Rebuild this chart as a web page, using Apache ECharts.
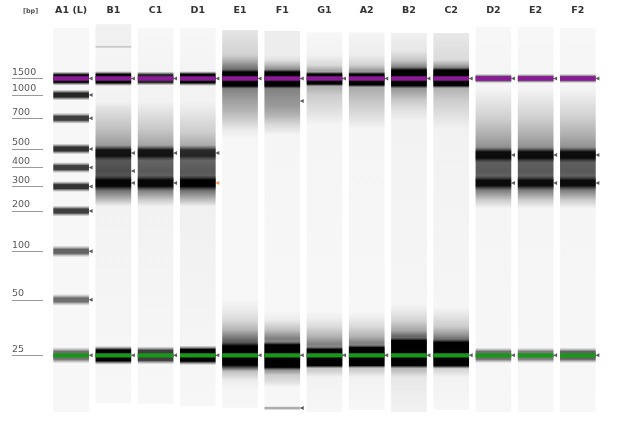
<!DOCTYPE html>
<html>
<head>
<meta charset="utf-8">
<script src="https://cdn.jsdelivr.net/npm/echarts@6/dist/echarts.min.js"></script>
<style>
  html, body { margin: 0; padding: 0; background: #fff; }
  #chart { width: 643px; height: 429px; }
</style>
</head>
<body>
<div id="chart"></div>
<script>
// lanes of the gel
const lanes = ['A1 (L)', 'B1', 'C1', 'D1', 'E1', 'F1', 'G1', 'A2', 'B2', 'C2', 'D2', 'E2', 'F2'];

// ladder: size in bp and relative migration (0 = top of gel, 100 = bottom)
const ladderSizes = [1500, 1000, 700, 500, 400, 300, 200, 100, 50, 25];
const ladderPos = [14.05, 18.3, 24.3, 32.2, 37.0, 41.9, 48.2, 58.6, 71.1, 85.4];

// upper / lower marker positions
const upperMarker = 14.05;
const lowerMarker = 85.4;

// lane extent (migration)
const laneTop = [1.0, 0.0, 1.0, 1.0, 1.55, 1.8, 2.1, 2.1, 2.3, 2.3, 0.8, 0.8, 1.0];
const laneBottom = [100, 97.7, 97.9, 98.5, 99.0, 99.5, 100, 99.5, 100, 99.5, 100, 100, 100];

// background smear per lane: [migration, darkness]
const laneSmear = [
  [],
  [[0.3, 0.06], [5.5, 0.06], [5.9, 0.25], [6.3, 0.04], [20, 0.05], [22, 0.12], [27.3, 0.25], [31, 0.38], [35, 0.65], [38, 0.7], [43, 0.55], [45.4, 0.25], [47, 0.05]],
  [[20, 0.05], [22, 0.1], [27.3, 0.22], [31, 0.35], [35, 0.6], [38, 0.65], [43, 0.5], [45.4, 0.2], [47, 0.05]],
  [[20, 0.05], [23, 0.1], [28, 0.2], [31, 0.32], [35, 0.6], [38, 0.65], [43, 0.55], [45.4, 0.25], [47, 0.06]],
  [[1.55, 0.1], [8, 0.18], [9.3, 0.3], [10.6, 0.45], [12, 0.6], [16.5, 0.5], [19.6, 0.38], [22.2, 0.3], [24.7, 0.2], [27.3, 0.08], [29.9, 0.03], [71, 0.03], [73.7, 0.08], [76.3, 0.15], [78.9, 0.3], [81, 0.55], [82.5, 0.7], [88.7, 0.6], [89.5, 0.25], [91.7, 0.08], [94, 0.04]],
  [[1.8, 0.07], [8, 0.07], [9.3, 0.12], [10.6, 0.28], [12, 0.5], [16.5, 0.5], [19.6, 0.42], [21, 0.4], [23.5, 0.3], [26, 0.15], [28.6, 0.04], [74, 0.03], [76.3, 0.08], [78.9, 0.25], [81, 0.5], [89.4, 0.4], [90.5, 0.2], [92.3, 0.12], [93.5, 0.03]],
  [[2.1, 0.03], [8, 0.05], [10.6, 0.15], [12, 0.35], [16.5, 0.3], [18.3, 0.2], [20.9, 0.15], [23.5, 0.1], [26, 0.04], [74, 0.03], [76, 0.07], [78, 0.14], [80.5, 0.3], [82.5, 0.5], [89.2, 0.2], [91, 0.05]],
  [[2.1, 0.04], [8, 0.07], [10.6, 0.18], [12, 0.4], [16.6, 0.32], [20, 0.22], [24, 0.12], [27, 0.04], [74, 0.03], [76, 0.08], [78, 0.15], [80.5, 0.3], [82.2, 0.5], [89.2, 0.2], [91, 0.05]],
  [[2.3, 0.06], [7, 0.1], [9.3, 0.22], [10.6, 0.4], [11.5, 0.6], [16.8, 0.4], [19.6, 0.22], [22, 0.12], [25, 0.05], [72, 0.04], [73.7, 0.08], [76.3, 0.16], [79, 0.35], [80.5, 0.6], [89.3, 0.25], [91, 0.1], [95, 0.07], [100, 0.05]],
  [[2.3, 0.09], [9.3, 0.14], [10.6, 0.35], [11.7, 0.6], [16.7, 0.3], [19.6, 0.2], [22, 0.15], [24.7, 0.1], [27, 0.05], [73, 0.04], [75, 0.1], [78, 0.2], [80, 0.4], [81.5, 0.6], [89.3, 0.15], [91, 0.05]],
  [[16.5, 0.04], [19.6, 0.1], [24, 0.18], [28, 0.3], [31, 0.4], [35, 0.62], [38, 0.65], [43, 0.5], [45.4, 0.2], [47.5, 0.04]],
  [[16.5, 0.04], [19.6, 0.1], [24, 0.18], [28, 0.3], [31, 0.4], [35, 0.62], [38, 0.65], [43, 0.5], [45.4, 0.2], [47.5, 0.04]],
  [[16.5, 0.04], [19.6, 0.1], [24, 0.18], [28, 0.3], [31, 0.4], [35, 0.62], [38, 0.65], [43, 0.5], [45.4, 0.2], [47.5, 0.04]]
];

// bands: [lane, migration, core half width, halo, darkness]
const bands = [
  [0, 14.05, 1.0, 0.8, 0.95], [0, 18.3, 0.5, 0.9, 0.85], [0, 24.3, 0.5, 0.9, 0.75], [0, 32.2, 0.5, 0.9, 0.8],
  [0, 37.0, 0.5, 0.9, 0.75], [0, 41.9, 0.5, 0.9, 0.8], [0, 48.2, 0.5, 0.9, 0.75], [0, 58.6, 0.5, 1.0, 0.6],
  [0, 71.1, 0.5, 1.0, 0.55], [0, 85.4, 1.0, 1.1, 0.55],
  [1, 14.05, 1.1, 0.8, 1], [1, 33.25, 0.8, 1.2, 0.85], [1, 41.0, 0.8, 1.2, 0.95], [1, 85.4, 1.4, 1.0, 1],
  [2, 14.05, 1.0, 0.8, 0.85], [2, 33.25, 0.8, 1.2, 0.85], [2, 41.0, 0.8, 1.2, 0.95], [2, 85.4, 1.3, 1.0, 0.75],
  [3, 14.05, 1.1, 0.8, 1], [3, 33.25, 0.8, 1.2, 0.7], [3, 41.0, 0.8, 1.2, 1], [3, 85.4, 1.5, 1.0, 1],
  [4, 14.18, 1.8, 0.7, 1], [4, 85.44, 2.5, 0.8, 1],
  [5, 14.18, 1.8, 0.7, 1], [5, 85.57, 2.9, 0.8, 1], [5, 99.0, 0.2, 0.3, 0.3],
  [6, 14.18, 1.3, 0.6, 1], [6, 85.95, 2.1, 0.7, 1],
  [7, 14.3, 1.4, 0.6, 1], [7, 85.7, 2.3, 0.7, 1],
  [8, 13.9, 2.0, 0.7, 1], [8, 84.8, 3.2, 0.8, 1],
  [9, 13.9, 2.0, 0.6, 1], [9, 85.05, 3.0, 0.8, 1],
  [10, 14.05, 0.6, 0.6, 0.6], [10, 33.76, 0.8, 1.2, 0.9], [10, 40.98, 0.7, 1.2, 0.9], [10, 85.4, 1.0, 1.0, 0.55],
  [11, 14.05, 0.6, 0.6, 0.55], [11, 33.76, 0.8, 1.2, 0.9], [11, 40.98, 0.7, 1.2, 0.9], [11, 85.4, 1.0, 1.0, 0.5],
  [12, 14.05, 0.6, 0.6, 0.55], [12, 33.76, 0.8, 1.2, 0.9], [12, 40.98, 0.7, 1.2, 0.9], [12, 85.4, 1.0, 1.0, 0.6]
];

// detected peaks: [lane, migration]
const peaks = [
  [0, 14.05], [0, 18.3], [0, 24.3], [0, 32.2], [0, 37.0], [0, 41.9], [0, 48.2], [0, 58.6], [0, 71.1], [0, 85.4],
  [1, 14.05], [1, 33.25], [1, 37.9], [1, 41.0], [1, 85.4],
  [2, 14.05], [2, 33.25], [2, 41.0], [2, 85.4],
  [3, 14.05], [3, 33.25], [3, 85.4],
  [4, 14.05], [4, 85.4],
  [5, 14.05], [5, 19.85], [5, 85.4], [5, 99.0],
  [6, 14.05], [6, 85.4], [7, 14.05], [7, 85.4], [8, 14.05], [8, 85.4], [9, 14.05], [9, 85.4],
  [10, 14.05], [10, 33.76], [10, 41.0], [10, 85.4],
  [11, 14.05], [11, 33.76], [11, 41.0], [11, 85.4],
  [12, 14.05], [12, 33.76], [12, 41.0], [12, 85.4]
];
// flagged peaks (orange)
const flaggedPeaks = [[3, 41.0]];

const laneWidth = 0.845;
const baseDark = 0.03;

function gray(d) {
  const v = Math.round(255 * (1 - d));
  return 'rgb(' + v + ',' + v + ',' + v + ')';
}

function laneItem(params, api) {
  const i = api.value(0);
  const top = api.value(1), bot = api.value(2);
  const p0 = api.coord([i, top]);
  const p1 = api.coord([i, bot]);
  const w = api.size([1, 0])[0] * laneWidth;
  const stops = [{ offset: 0, color: gray(baseDark) }];
  laneSmear[i].forEach(function (s) {
    let o = (s[0] - top) / (bot - top);
    o = Math.max(0, Math.min(1, o));
    stops.push({ offset: o, color: gray(s[1]) });
  });
  stops.push({ offset: 1, color: gray(baseDark) });
  return {
    type: 'rect',
    shape: { x: p0[0] - w / 2, y: p0[1], width: w, height: p1[1] - p0[1] },
    style: { fill: new echarts.graphic.LinearGradient(0, 0, 0, 1, stops) }
  };
}

function bandItem(params, api) {
  const i = api.value(0), pos = api.value(1), core = api.value(2), halo = api.value(3), d = api.value(4);
  const a = api.coord([i, pos - core - halo]);
  const b = api.coord([i, pos + core + halo]);
  const w = api.size([1, 0])[0] * laneWidth;
  const t = halo / (2 * (core + halo));
  const c = function (k) { return 'rgba(0,0,0,' + (d * k).toFixed(3) + ')'; };
  const y0 = Math.min(a[1], b[1]);
  return {
    type: 'rect',
    shape: { x: a[0] - w / 2, y: y0, width: w, height: Math.abs(b[1] - a[1]) },
    style: {
      fill: new echarts.graphic.LinearGradient(0, 0, 0, 1, [
        { offset: 0, color: c(0) },
        { offset: t * 0.5, color: c(0.4) },
        { offset: t, color: c(1) },
        { offset: 1 - t, color: c(1) },
        { offset: 1 - t * 0.5, color: c(0.4) },
        { offset: 1, color: c(0) }
      ])
    }
  };
}

function markerItem(color) {
  return function (params, api) {
    const p = api.coord([api.value(0), api.value(1)]);
    const w = api.size([1, 0])[0] * laneWidth;
    return {
      type: 'rect',
      shape: { x: p[0] - w / 2, y: p[1] - 2.2, width: w, height: 4.4 },
      style: { fill: color }
    };
  };
}

const chart = echarts.init(document.getElementById('chart'));
const option = {
  animation: false,
  backgroundColor: '#fff',
  title: {
    text: '[bp]',
    left: 18,
    top: 3,
    textStyle: { fontSize: 6.5, fontWeight: 'bold', color: '#555', fontFamily: 'DejaVu Sans' }
  },
  grid: { left: 50, right: 44, top: 24, bottom: 17 },
  xAxis: {
    type: 'category',
    data: lanes,
    position: 'top',
    axisLine: { show: false },
    axisTick: { show: false },
    axisLabel: { margin: 8, fontSize: 9.5, fontWeight: 'bold', color: '#333', fontFamily: 'DejaVu Sans' },
    splitLine: { show: false }
  },
  yAxis: {
    type: 'value',
    min: 0,
    max: 100,
    inverse: true,
    offset: 7,
    axisLine: { show: false },
    splitLine: { show: false },
    axisTick: {
      show: true,
      customValues: ladderPos,
      length: 31,
      lineStyle: { color: '#9a9a9a', width: 1 }
    },
    axisLabel: {
      customValues: ladderPos,
      margin: 31,
      align: 'left',
      verticalAlign: 'bottom',
      padding: [0, 0, 1, 0],
      fontSize: 9.5,
      color: '#5a5a5a',
      fontFamily: 'DejaVu Sans',
      formatter: function (v) {
        const k = ladderPos.indexOf(v);
        return k >= 0 ? String(ladderSizes[k]) : '';
      }
    }
  },
  series: [
    {
      type: 'custom',
      renderItem: laneItem,
      encode: { x: 0, y: [1, 2] },
      z: 1,
      data: lanes.map(function (_, i) { return [i, laneTop[i], laneBottom[i]]; })
    },
    {
      type: 'custom',
      renderItem: bandItem,
      encode: { x: 0, y: 1 },
      z: 2,
      data: bands
    },
    {
      type: 'custom',
      renderItem: markerItem('#8a1a96'),
      encode: { x: 0, y: 1 },
      z: 3,
      data: lanes.map(function (_, i) { return [i, upperMarker]; })
    },
    {
      type: 'custom',
      renderItem: markerItem('#1a961a'),
      encode: { x: 0, y: 1 },
      z: 3,
      data: lanes.map(function (_, i) { return [i, lowerMarker]; })
    },
    {
      type: 'scatter',
      symbol: 'triangle',
      symbolRotate: 90,
      symbolSize: [4, 4],
      symbolOffset: [19.5, 0],
      itemStyle: { color: '#333' },
      z: 4,
      silent: true,
      data: peaks
    },
    {
      type: 'scatter',
      symbol: 'triangle',
      symbolRotate: 90,
      symbolSize: [4, 4],
      symbolOffset: [19.5, 0],
      itemStyle: { color: '#f07a30' },
      z: 4,
      silent: true,
      data: flaggedPeaks
    }
  ]
};
chart.setOption(option);
window.onresize = function () { chart.resize(); };
</script>
</body>
</html>
